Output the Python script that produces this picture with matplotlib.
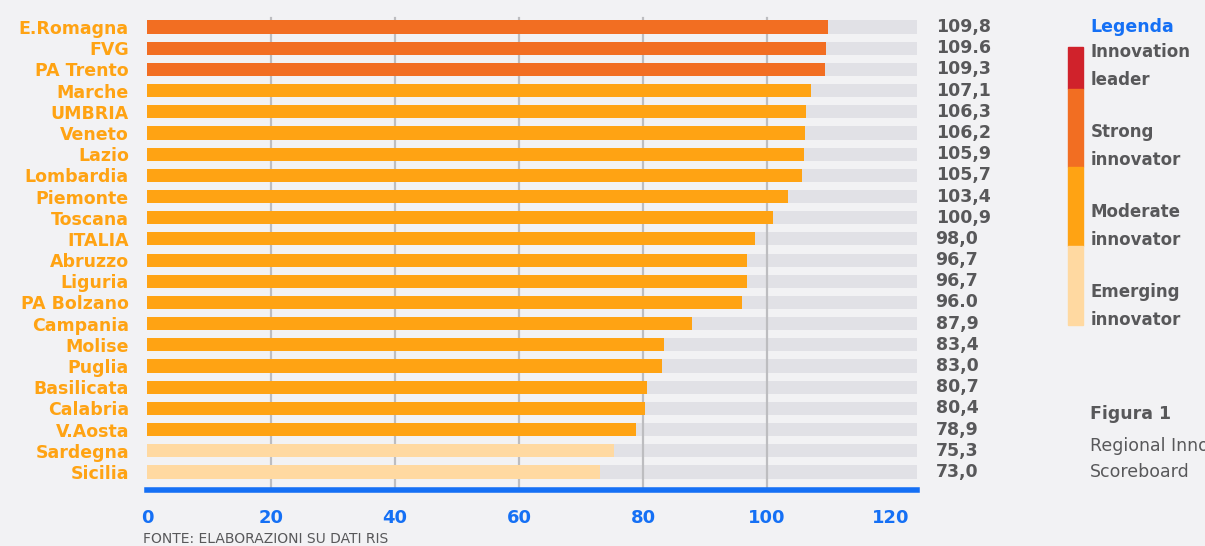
import matplotlib
matplotlib.use("Agg")
import matplotlib.pyplot as plt
from matplotlib.patches import Rectangle

# Regional Innovation Scoreboard data
regions = ["E.Romagna", "FVG", "PA Trento", "Marche", "UMBRIA", "Veneto", "Lazio",
           "Lombardia", "Piemonte", "Toscana", "ITALIA", "Abruzzo", "Liguria",
           "PA Bolzano", "Campania", "Molise", "Puglia", "Basilicata", "Calabria",
           "V.Aosta", "Sardegna", "Sicilia"]
scores = [109.8, 109.6, 109.3, 107.1, 106.3, 106.2, 105.9, 105.7, 103.4, 100.9,
          98.0, 96.7, 96.7, 96.0, 87.9, 83.4, 83.0, 80.7, 80.4, 78.9, 75.3, 73.0]
score_labels = ["109,8", "109.6", "109,3", "107,1", "106,3", "106,2", "105,9",
                "105,7", "103,4", "100,9", "98,0", "96,7", "96,7", "96.0", "87,9",
                "83,4", "83,0", "80,7", "80,4", "78,9", "75,3", "73,0"]
groups = ["strong"] * 3 + ["moderate"] * 17 + ["emerging"] * 2
x_ticks = [0, 20, 40, 60, 80, 100, 120]

legend_names = ["Innovation\nleader", "Strong\ninnovator",
                "Moderate\ninnovator", "Emerging\ninnovator"]

colors = {"leader": "#D0222B", "strong": "#F26E22",
          "moderate": "#FFA313", "emerging": "#FFD9A1"}
BG = "#F2F2F4"
TRACK = "#E1E1E6"
BLUE = "#1570F5"
GREY_TXT = "#58585A"
LABEL = "#FFA313"
FONT = ["DejaVu Sans"]

fig = plt.figure(figsize=(12.05, 5.46), dpi=100, facecolor=BG)
W, H = 1205, 546

x0_px, x1_px = 147, 917
top_px, bot_px = 16, 490
ax = fig.add_axes([x0_px / W, 1 - bot_px / H, (x1_px - x0_px) / W, (bot_px - top_px) / H])
ax.set_facecolor(BG)

xmax = 124.2
ax.set_xlim(0, xmax)
ax.set_ylim(len(regions) - 1 + 0.85, -0.52)

ypos = list(range(len(regions)))
bar_h = 0.62

# full-width tracks behind each bar
ax.barh(ypos, [xmax] * len(regions), height=bar_h, color=TRACK, zorder=1)
# vertical gridlines
for t in x_ticks[1:-1]:
    ax.axvline(t, ymax=0.995, color="#BDBDC0", lw=1.6, zorder=2)
# value bars
ax.barh(ypos, scores, height=bar_h, color=[colors[g] for g in groups], zorder=3)

# axis baseline
ax.axhline(len(regions) - 1 + 0.85, color=BLUE, lw=4, zorder=4, clip_on=False)

for s in ax.spines.values():
    s.set_visible(False)
ax.set_xticks(x_ticks)
ax.set_xticklabels([str(t) for t in x_ticks], color=BLUE, fontsize=13,
                   fontweight="bold", family=FONT)
ax.tick_params(axis="x", length=0, pad=14)
ax.set_yticks(ypos)
ax.set_yticklabels(regions, color=LABEL, fontsize=12.5, fontweight="bold", family=FONT)
ax.tick_params(axis="y", length=0, pad=13)

# value labels to the right of the tracks
for y, lab in zip(ypos, score_labels):
    ax.text(xmax + 3, y, lab, ha="left", va="center", color=GREY_TXT,
            fontsize=12.5, fontweight="bold", family=FONT, clip_on=False)

# source note
fig.text(143 / W, 1 - 539 / H, "FONTE: ELABORAZIONI SU DATI RIS", ha="left",
         va="center", color=GREY_TXT, fontsize=10, family=FONT)

# legend: title, colour strip and category names
fig.text(1090 / W, 1 - 27 / H, "Legenda", ha="left", va="center", color=BLUE,
         fontsize=12.5, fontweight="bold", family=FONT)
strip = [("leader", 47, 89), ("strong", 89, 167),
         ("moderate", 167, 246), ("emerging", 246, 325)]
for key, ya, yb in strip:
    fig.patches.append(Rectangle((1068 / W, 1 - yb / H), 15 / W, (yb - ya) / H,
                                 transform=fig.transFigure, color=colors[key]))
legend_y = [66, 146, 226, 306]
for name, yc in zip(legend_names, legend_y):
    fig.text(1091 / W, 1 - yc / H, name, ha="left", va="center", color=GREY_TXT,
             fontsize=12, fontweight="bold", family=FONT, linespacing=1.7)

# figure caption
fig.text(1090 / W, 1 - 414 / H, "Figura 1", ha="left", va="center", color=GREY_TXT,
         fontsize=12.5, fontweight="bold", family=FONT)
fig.text(1090 / W, 1 - 446 / H, "Regional Innovation", ha="left", va="center",
         color=GREY_TXT, fontsize=12.5, family=FONT)
fig.text(1090 / W, 1 - 472 / H, "Scoreboard", ha="left", va="center",
         color=GREY_TXT, fontsize=12.5, family=FONT)

fig.savefig("out.png", dpi=100, facecolor=BG)
